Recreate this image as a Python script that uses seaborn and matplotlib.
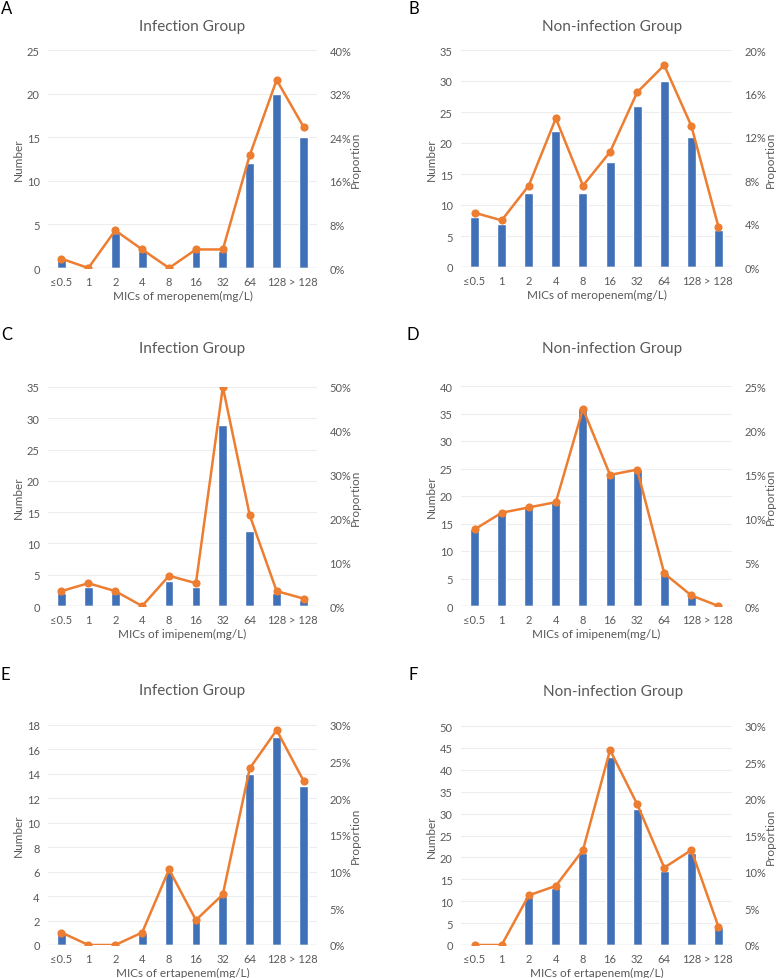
"""
MIC distributions of carbapenems, infection vs non-infection groups.
Bars = number of isolates, line = proportion (right axis).
"""
import pandas as pd
import matplotlib.pyplot as plt
import seaborn as sns
from matplotlib.ticker import MultipleLocator, PercentFormatter

W, H = 778, 979
BLUE = "#4070B8"
ORANGE = "#ED7D31"
GREY = "#595959"

mic_labels = ["≤0.5", "1", "2", "4", "8", "16", "32", "64", "128", "> 128"]

# meropenem
mero_inf_n = [1, 0, 4, 2, 0, 2, 2, 12, 20, 15]
mero_inf_p = [0.017, 0.0, 0.069, 0.034, 0.0, 0.034, 0.034, 0.207, 0.345, 0.259]
mero_non_n = [8, 7, 12, 22, 12, 17, 26, 30, 21, 6]
mero_non_p = [0.050, 0.043, 0.075, 0.137, 0.075, 0.106, 0.161, 0.186, 0.130, 0.037]

# imipenem
imi_inf_n = [2, 3, 2, 0, 4, 3, 29, 12, 2, 1]
imi_inf_p = [0.034, 0.052, 0.034, 0.0, 0.069, 0.052, 0.500, 0.207, 0.034, 0.017]
imi_non_n = [14, 17, 18, 19, 36, 24, 25, 6, 2, 0]
imi_non_p = [0.087, 0.106, 0.112, 0.118, 0.224, 0.149, 0.155, 0.037, 0.012, 0.0]

# ertapenem
erta_inf_n = [1, 0, 0, 1, 6, 2, 4, 14, 17, 13]
erta_inf_p = [0.017, 0.0, 0.0, 0.017, 0.103, 0.034, 0.069, 0.241, 0.293, 0.224]
erta_non_n = [0, 0, 11, 13, 21, 43, 31, 17, 21, 4]
erta_non_p = [0.0, 0.0, 0.068, 0.081, 0.130, 0.267, 0.193, 0.106, 0.130, 0.025]


def draw_panel(fig, rect, letter, title, drug, counts, props,
               ymax, ystep, pmax, pstep, letter_xy, title_xy):
    left, top, right, bottom = rect
    aw, ah = right - left, bottom - top
    ax = fig.add_axes([left / W, 1 - bottom / H, aw / W, ah / H])
    df = pd.DataFrame({"mic": mic_labels, "number": counts, "prop": props})

    sns.barplot(data=df, x="mic", y="number", color=BLUE, saturation=1,
                width=0.33, ax=ax)
    ax.set_axisbelow(True)
    ax.set_ylim(0, ymax)
    ax.yaxis.set_major_locator(MultipleLocator(ystep))
    ax.grid(axis="y", color="#EDEDED", linewidth=0.8)
    ax.grid(axis="x", visible=False)
    ax.axhline(0, color="#D9D9D9", linewidth=1.0, zorder=1)
    for s in ax.spines.values():
        s.set_visible(False)
    ax.tick_params(axis="both", length=0, labelsize=8, labelcolor=GREY)
    ax.tick_params(axis="y", pad=6)
    ax.tick_params(axis="x", pad=6)
    ax.set_ylabel("Number", fontsize=8.5, color=GREY, ha="center", va="center")
    ax.yaxis.set_label_coords(-30 / aw, 0.5)
    ax.set_xlabel(f"MICs of {drug}(mg/L)", fontsize=8.5, color=GREY,
                  ha="center", va="center")
    ax.xaxis.set_label_coords(0.5, -27 / ah)

    ax2 = ax.twinx()
    sns.pointplot(data=df, x="mic", y="prop", color=ORANGE, markers="o",
                  markersize=4.5, linewidth=1.8, ax=ax2)
    ax2.set_ylim(0, pmax)
    ax2.yaxis.set_major_locator(MultipleLocator(pstep))
    ax2.yaxis.set_major_formatter(PercentFormatter(xmax=1, decimals=0))
    for s in ax2.spines.values():
        s.set_visible(False)
    ax2.tick_params(axis="y", length=0, labelsize=8, labelcolor=GREY, pad=9)
    ax2.set_ylabel("Proportion", fontsize=8.5, color=GREY, ha="center", va="center")
    ax2.yaxis.set_label_coords(1 + 38 / aw, 0.5)
    ax.set_xlim(-0.5, 9.5)

    fig.text(title_xy[0] / W, 1 - title_xy[1] / H, title, ha="center", va="center",
             fontsize=11, color=GREY)
    fig.text(letter_xy[0] / W, 1 - letter_xy[1] / H, letter, ha="left", va="center",
             fontsize=12, color="black")


def main():
    sns.set_theme(style="white")
    plt.rcParams["font.family"] = ["Lato", "DejaVu Sans"]

    fig = plt.figure(figsize=(W / 100, H / 100), dpi=100)

    draw_panel(fig, (48, 51, 317, 269), "A", "Infection Group", "meropenem",
               mero_inf_n, mero_inf_p, 25, 5, 0.40, 0.08, (1, 9), (192, 27))
    draw_panel(fig, (461, 51, 732, 268), "B", "Non-infection Group", "meropenem",
               mero_non_n, mero_non_p, 35, 5, 0.20, 0.04, (408, 9), (612, 27))
    draw_panel(fig, (48, 388, 317, 607), "C", "Infection Group", "imipenem",
               imi_inf_n, imi_inf_p, 35, 5, 0.50, 0.10, (1, 335), (192, 349))
    draw_panel(fig, (461, 387, 732, 607), "D", "Non-infection Group", "imipenem",
               imi_non_n, imi_non_p, 40, 5, 0.25, 0.05, (407, 335), (612, 349))
    draw_panel(fig, (48, 726, 317, 946), "E", "Infection Group", "ertapenem",
               erta_inf_n, erta_inf_p, 18, 2, 0.30, 0.05, (1, 675), (192, 691))
    draw_panel(fig, (461, 727, 732, 946), "F", "Non-infection Group", "ertapenem",
               erta_non_n, erta_non_p, 50, 5, 0.30, 0.05, (408, 675), (613, 692))

    fig.savefig("out.png", dpi=100, facecolor="white")


if __name__ == "__main__":
    main()
